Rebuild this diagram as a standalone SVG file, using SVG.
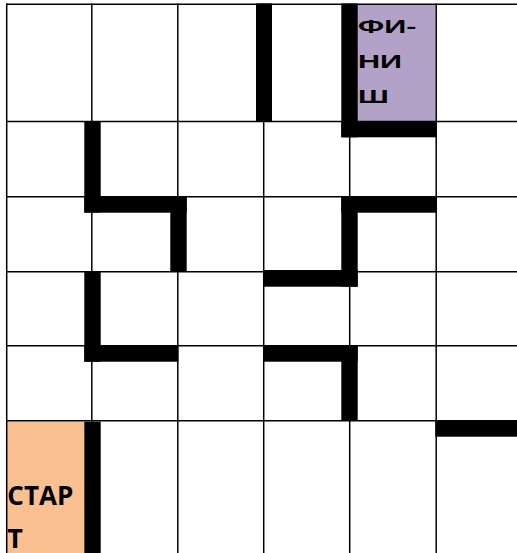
<svg xmlns="http://www.w3.org/2000/svg" width="517" height="553" viewBox="0 0 517 553">
<style>
.grid line{stroke:#000;stroke-width:1.5}
.wall{fill:#000}
.fin{font-family:"Liberation Sans",Arial,sans-serif;font-weight:bold;font-size:17.5px;fill:#000}
.st{font-family:"Open Sans","Liberation Sans",sans-serif;font-weight:bold;font-size:27px;fill:#000}
</style>
<rect x="0" y="0" width="517" height="553" fill="#fff"/>
<g id="finish">
<rect x="357" y="4.5" width="78.5" height="117" fill="#B3A2C7"/>
<g transform="translate(358,0) scale(1.75,1)">
<text class="fin" x="0" y="33">ФИ-</text>
<text class="fin" x="0" y="67.7">НИ</text>
<text class="fin" x="0" y="103.3">Ш</text>
</g>
</g>
<g id="start">
<rect x="7" y="421.5" width="77.5" height="131.5" fill="#FAC090"/>
<text class="st" x="7.3" y="505" textLength="66" lengthAdjust="spacingAndGlyphs">СТАР</text>
<text class="st" x="7.3" y="548">Т</text>
</g>
<g class="grid" id="grid">
<line x1="6" y1="4.2" x2="517" y2="4.2"/>
<line x1="6" y1="121.5" x2="517" y2="121.5"/>
<line x1="6" y1="196.7" x2="517" y2="196.7"/>
<line x1="6" y1="271.8" x2="517" y2="271.8"/>
<line x1="6" y1="345.8" x2="517" y2="345.8"/>
<line x1="6" y1="420.8" x2="517" y2="420.8"/>
<line x1="6.7" y1="3.5" x2="6.7" y2="553"/>
<line x1="91.8" y1="3.5" x2="91.8" y2="553"/>
<line x1="177.8" y1="3.5" x2="177.8" y2="553"/>
<line x1="263.7" y1="3.5" x2="263.7" y2="553"/>
<line x1="349.7" y1="3.5" x2="349.7" y2="553"/>
<line x1="436.2" y1="3.5" x2="436.2" y2="553"/>
</g>
<g id="walls">
<rect class="wall" x="256" y="3.5" width="16" height="118"/>
<rect class="wall" x="341.3" y="3.5" width="16.4" height="133.8"/>
<rect class="wall" x="341.3" y="121" width="95.2" height="16.3"/>
<rect class="wall" x="84.3" y="121.5" width="16.4" height="91"/>
<rect class="wall" x="84.3" y="196" width="102.4" height="16.7"/>
<rect class="wall" x="170.3" y="196" width="16.4" height="75.8"/>
<rect class="wall" x="84.3" y="271.5" width="16.4" height="90.2"/>
<rect class="wall" x="84.3" y="345" width="94" height="16.7"/>
<rect class="wall" x="341.3" y="196" width="16.4" height="90.7"/>
<rect class="wall" x="341.3" y="196" width="95.7" height="16.7"/>
<rect class="wall" x="263" y="270" width="94.7" height="16.7"/>
<rect class="wall" x="263" y="345" width="94.7" height="16.7"/>
<rect class="wall" x="341.3" y="345" width="16.4" height="75.7"/>
<rect class="wall" x="435.3" y="420.7" width="81.7" height="16"/>
<rect class="wall" x="84.3" y="421.7" width="16.4" height="131.3"/>
</g>
</svg>
